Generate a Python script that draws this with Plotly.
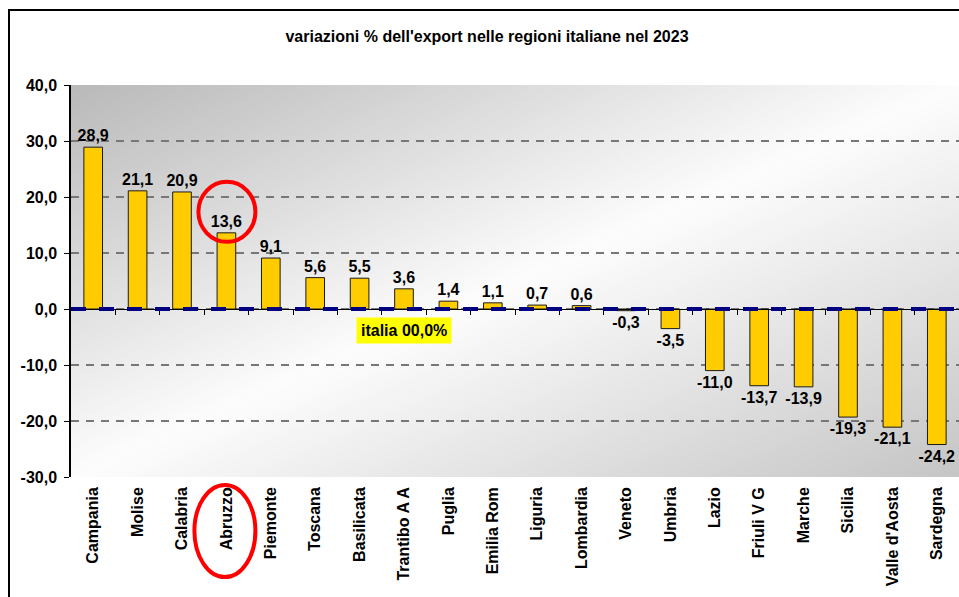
import base64
import struct
import zlib

import plotly.graph_objects as go

# ---------------- data ----------------
categories = ["Campania", "Molise", "Calabria", "Abruzzo", "Piemonte", "Toscana",
              "Basilicata", "Trantibo A A", "Puglia", "Emilia Rom", "Liguria",
              "Lombardia", "Veneto", "Umbria", "Lazio", "Friuli V G", "Marche",
              "Sicilia", "Valle d'Aosta", "Sardegna"]
values = [28.9, 21.1, 20.9, 13.6, 9.1, 5.6, 5.5, 3.6, 1.4, 1.1, 0.7, 0.6,
          -0.3, -3.5, -11.0, -13.7, -13.9, -19.3, -21.1, -24.2]
italia_value = 0.0
italia_label = "italia 00,0%"
highlight = "Abruzzo"
title_text = "variazioni % dell'export nelle regioni italiane nel 2023"
y_ticks = [40, 30, 20, 10, 0, -10, -20, -30]


def fmt(v):
    return f"{v:.1f}".replace(".", ",")


value_labels = [fmt(v) for v in values]
y_tick_labels = [fmt(v) for v in y_ticks]

FONT = "Liberation Sans, Arial, sans-serif"
n = len(categories)
xs = list(range(n))
hi = categories.index(highlight)

W, H = 959, 597


# ------------- background gradient (style only) -------------
def gradient_png(w=96, h=96, c0=186, cw=253, c1=198):
    raw = b""
    for j in range(h):
        row = bytearray([0])
        v = j / (h - 1)
        for i in range(w):
            u = i / (w - 1)
            t = (u + v) / 2
            if t < 0.5:
                g = c0 + (cw - c0) * (t / 0.5)
            else:
                g = cw + (c1 - cw) * ((t - 0.5) / 0.5)
            row.append(int(round(g)))
        raw += bytes(row)

    def chunk(tag, data):
        return (struct.pack(">I", len(data)) + tag + data +
                struct.pack(">I", zlib.crc32(tag + data) & 0xFFFFFFFF))

    png = (b"\x89PNG\r\n\x1a\n" +
           chunk(b"IHDR", struct.pack(">IIBBBBB", w, h, 8, 0, 0, 0, 0)) +
           chunk(b"IDAT", zlib.compress(raw)) +
           chunk(b"IEND", b""))
    return "data:image/png;base64," + base64.b64encode(png).decode()


fig = go.Figure()

fig.add_trace(go.Bar(
    x=xs, y=values, width=0.42,
    marker=dict(color="#FFCC00", line=dict(color="#1a1a1a", width=1)),
    text=value_labels, textposition="outside", cliponaxis=False,
    constraintext="none", textangle=0,
    textfont=dict(family=FONT, size=16, color="black", weight="bold"),
    hoverinfo="skip",
))

# invisible trace so the axis crossing at zero is drawn
fig.add_trace(go.Scatter(x=[xs[0]], y=[italia_value], xaxis="x2", mode="markers",
                         marker=dict(opacity=0), hoverinfo="skip", showlegend=False))

fig.update_layout(
    width=W, height=H,
    margin=dict(l=71, r=0, t=85, b=H - 477),
    paper_bgcolor="white", plot_bgcolor="white",
    showlegend=False,
    title=dict(text=title_text, x=487 / W, xref="container", xanchor="center",
               y=1 - 36 / H, yanchor="middle",
               font=dict(family=FONT, size=16, color="black", weight="bold")),
    xaxis=dict(range=[-0.5, n - 0.5], tickvals=xs, ticktext=categories,
               tickangle=-90, ticks="", showline=False, showgrid=False,
               zeroline=False, ticklabelstandoff=6,
               tickfont=dict(family=FONT, size=16, color="black", weight="bold")),
    xaxis2=dict(range=[-0.5, n - 0.5], overlaying="x", anchor="free",
                position=(italia_value - y_ticks[-1]) / (y_ticks[0] - y_ticks[-1]),
                side="bottom", showline=True, linecolor="black", linewidth=1,
                ticks="outside", ticklen=5, tickcolor="black", tickwidth=1,
                tickvals=[k + 0.5 for k in range(n - 1)],
                showticklabels=False, showgrid=False, zeroline=False),
    yaxis=dict(range=[y_ticks[-1], y_ticks[0]], tickvals=y_ticks, ticktext=y_tick_labels,
               showline=True, linecolor="black", linewidth=1.5,
               ticks="outside", ticklen=5, tickcolor="black",
               showgrid=True, gridcolor="#777777", gridwidth=2, griddash="8px,7px",
               zeroline=False, ticklabelstandoff=4,
               tickfont=dict(family=FONT, size=16, color="black", weight="bold")),
    images=[dict(source=gradient_png(), xref="paper", yref="paper", x=0, y=1,
                 sizex=1, sizey=1, xanchor="left", yanchor="top",
                 sizing="stretch", layer="below")],
)

shapes = [
    # italia reference line at zero
    dict(type="line", xref="x domain", yref="y", x0=0, x1=1, y0=italia_value, y1=italia_value,
         line=dict(color="#000080", width=4, dash="15px,13px"), layer="above"),
    # circle around highlighted value label
    dict(type="circle", xref="x", yref="y", xsizemode="pixel", ysizemode="pixel",
         xanchor=hi, yanchor=values[hi], x0=-28, x1=29, y0=-9, y1=51,
         line=dict(color="#FF0000", width=4), layer="above"),
    # ellipse around highlighted category label
    dict(type="circle", xref="x", yref="paper", xsizemode="pixel", ysizemode="pixel",
         xanchor=hi, yanchor=0, x0=-32, x1=29, y0=-8, y1=-100,
         line=dict(color="#FF0000", width=4), layer="above"),
    # outer frame
    dict(type="rect", xref="paper", yref="paper", xsizemode="pixel", ysizemode="pixel",
         xanchor=0, yanchor=1, x0=-62, x1=920, y0=75, y1=-540,
         line=dict(color="black", width=2), fillcolor="rgba(0,0,0,0)", layer="above"),
]
fig.update_layout(shapes=shapes)

fig.add_annotation(x=hi + 4, y=-3.75, xref="x", yref="y", text=italia_label,
                   showarrow=False, bgcolor="#FFFF00", borderpad=4,
                   font=dict(family=FONT, size=16, color="black", weight="bold"))

fig.write_html(
    "out.html",
    config={"displayModeBar": False},
    post_script="document.body.style.margin='0';document.body.style.overflow='hidden';",
)
